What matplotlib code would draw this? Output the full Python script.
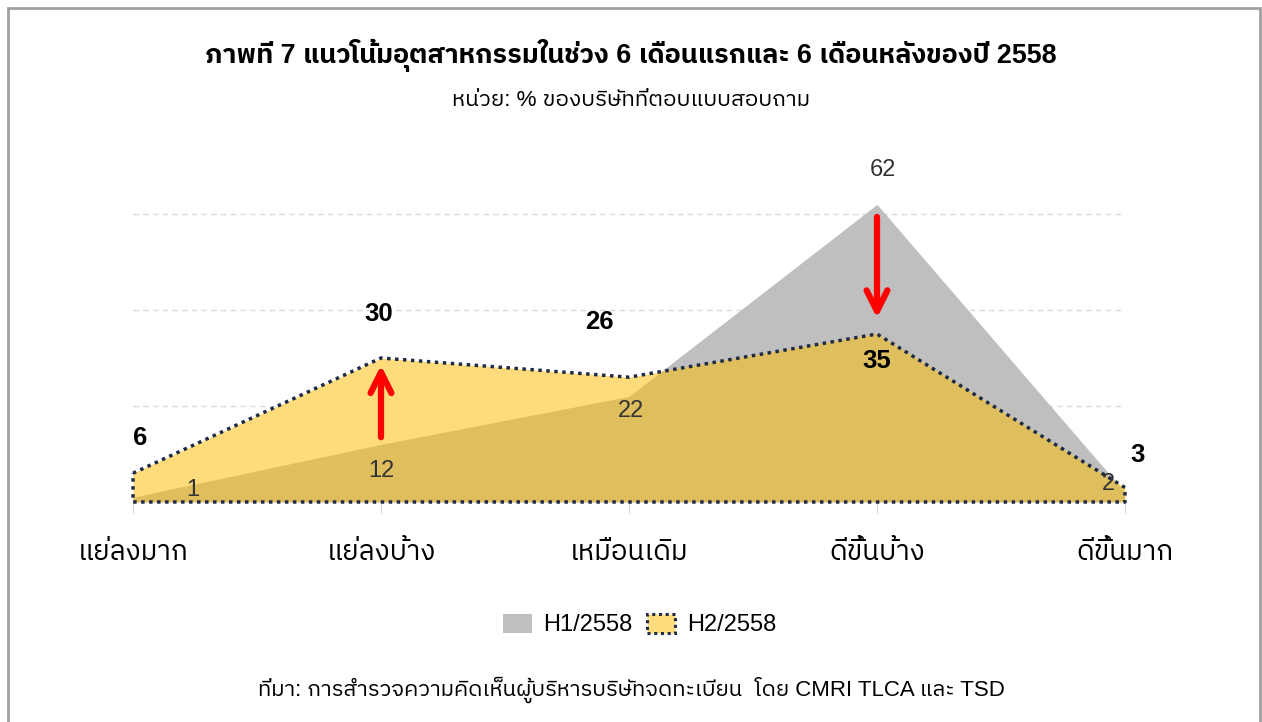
import matplotlib
matplotlib.use('Agg')
import matplotlib.pyplot as plt
from matplotlib.patches import Rectangle, Polygon
import numpy as np

plt.rcParams['font.family'] = ['Liberation Sans', 'IBM Plex Sans Thai']

# data
categories = ['แย่ลงมาก', 'แย่ลงบ้าง', 'เหมือนเดิม', 'ดีขึ้นบ้าง', 'ดีขึ้นมาก']
h1 = np.array([1, 12, 22, 62, 2])
h2 = np.array([6, 30, 26, 35, 3])
series_names = ['H1/2558', 'H2/2558']

title = 'ภาพที่ 7 แนวโน้มอุตสาหกรรมในช่วง 6 เดือนแรกและ 6 เดือนหลังของปี 2558'
subtitle = 'หน่วย: % ของบริษัทที่ตอบแบบสอบถาม'
source = 'ที่มา: การสำรวจความคิดเห็นผู้บริหารบริษัทจดทะเบียน  โดย CMRI TLCA และ TSD'

# label offsets in pixels (dx, dy)
h1_off = [(60, 7), (0, -27), (2, -15), (6, 34), (-17, 8)]
h2_off = [(7, 35), (-2, 44), (-30, 55), (0, -27), (13, 33)]

grey = '#bfbfbf'
yellow = '#fedc7c'
gold = '#dfbe5e'
navy = '#1f2a44'

W, H = 1262, 722
fig = plt.figure(figsize=(W / 100, H / 100), dpi=100)
fig.patches.append(Rectangle((8 / W, -0.01), (1260 - 8) / W, (H - 8) / H + 0.01,
                             transform=fig.transFigure, fill=False,
                             edgecolor='#a0a0a0', linewidth=2))

ax = fig.add_axes([133 / W, (H - 502) / H, (1125 - 133) / W, (502 - 190) / H])
x = np.arange(len(categories))

ax.set_xlim(0, len(categories) - 1)
ax.set_ylim(0, 65)
ax.set_yticks([20, 40, 60])
ax.yaxis.grid(True, color='#d9d9d9', linestyle=(0, (4, 3)), linewidth=1)
ax.set_axisbelow(True)
for s in ax.spines.values():
    s.set_visible(False)
ax.tick_params(axis='y', left=False, labelleft=False)
ax.set_xticks(x)
ax.set_xticklabels(categories, fontsize=20)
ax.tick_params(axis='x', length=8, color='#d9d9d9', pad=19)

# areas
ax.fill_between(x, 0, h1, color=grey, linewidth=0, zorder=2)
ax.fill_between(x, 0, h2, color=yellow, linewidth=0, zorder=3)
clip = Polygon(np.column_stack([np.r_[x, x[::-1]], np.r_[h2, np.zeros_like(h2)]]),
               closed=True, transform=ax.transData)
overlap = ax.fill_between(x, 0, h1, color=gold, linewidth=0, zorder=4)
overlap.set_clip_path(clip)
outline = np.column_stack([np.r_[x, x[::-1], x[0]], np.r_[h2, np.zeros_like(h2), h2[0]]])
ax.plot(outline[:, 0], outline[:, 1], color=navy, linewidth=2.5,
        linestyle=(0, (1, 1.3)), zorder=5, clip_on=False)

# value labels
for i in range(len(x)):
    ax.annotate(str(h1[i]), (x[i], h1[i]), xytext=h1_off[i], textcoords='offset pixels',
                ha='center', va='center', fontsize=17, color='#333333', zorder=6)
    ax.annotate(str(h2[i]), (x[i], h2[i]), xytext=h2_off[i], textcoords='offset pixels',
                ha='center', va='center', fontsize=18.5, fontweight='bold', color='black', zorder=6)

# change arrows
arrow = dict(arrowstyle='->,head_length=1.5,head_width=0.75', color='#ff0000', lw=4.5,
             shrinkA=0, shrinkB=0)
ax.annotate('', xy=(x[1], h2[1] - 1.5), xytext=(x[1], h1[1] + 1.5), arrowprops=arrow, zorder=7)
ax.annotate('', xy=(x[3], h2[3] + 3.3), xytext=(x[3], h1[3] - 2.6), arrowprops=arrow, zorder=7)

# titles
fig.text(0.5, (H - 55) / H, title, ha='center', va='center', fontsize=19.4, fontweight='bold')
fig.text(0.5, (H - 100) / H, subtitle, ha='center', va='center', fontsize=16.2)
fig.text(0.5, (H - 690) / H, source, ha='center', va='center', fontsize=16)

# legend
h_grey = Rectangle((0, 0), 1, 1, facecolor=grey, edgecolor='none')
h_yel = Rectangle((0, 0), 1, 1, facecolor=yellow, edgecolor=navy, linewidth=2.2,
                  linestyle=(0, (1, 1.2)))
fig.legend([h_grey, h_yel], series_names, loc='center', bbox_to_anchor=(0.507, (H - 625) / H),
           ncol=2, frameon=False, fontsize=17, handlelength=1.2, handleheight=0.9,
           handletextpad=0.5, columnspacing=0.6)

fig.savefig('out.png')
